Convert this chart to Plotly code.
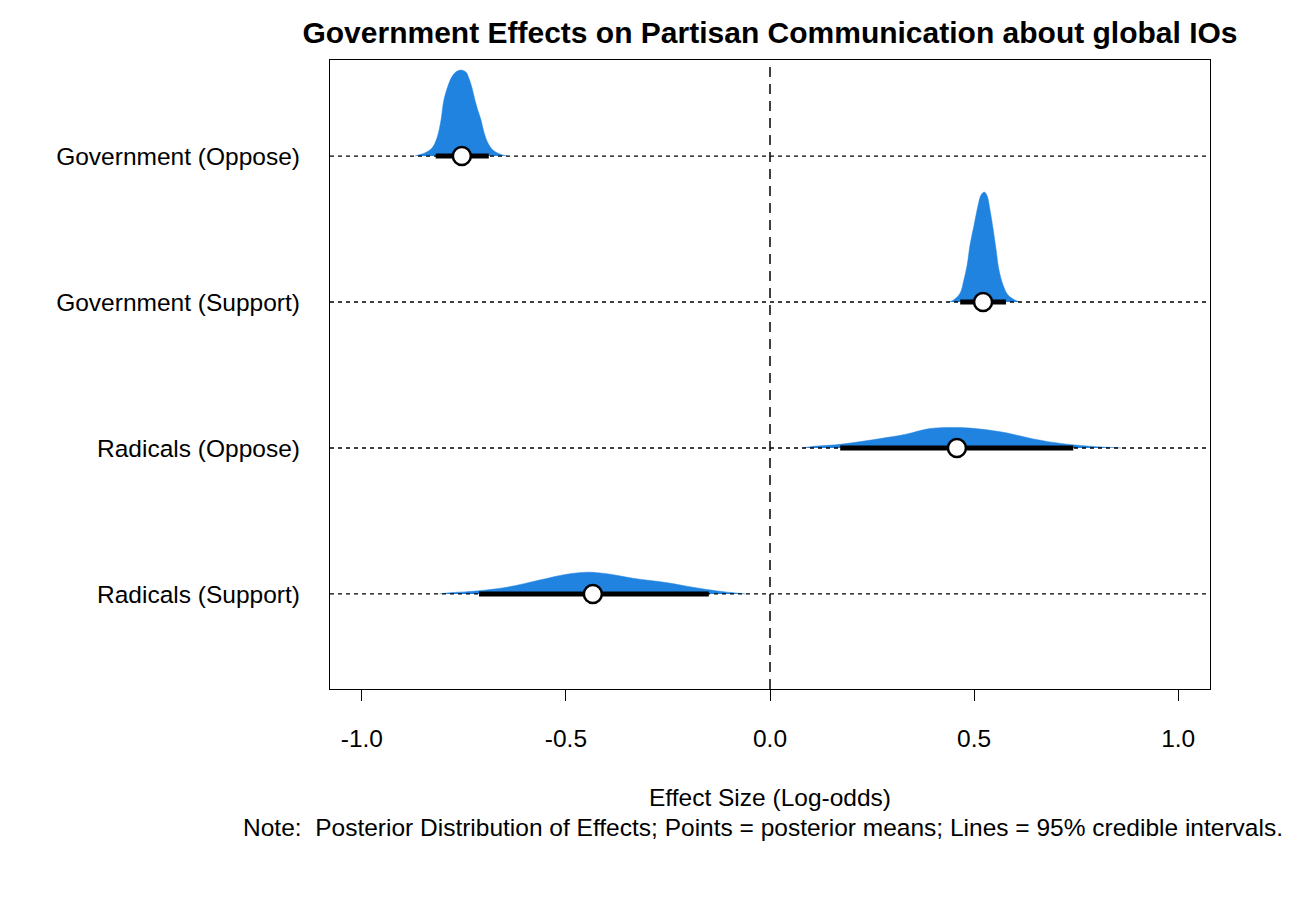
import plotly.graph_objects as go

# ---- data ----
categories = ["Government (Oppose)", "Government (Support)", "Radicals (Oppose)", "Radicals (Support)"]
rows = [4, 3, 2, 1]
means = [-0.755, 0.522, 0.458, -0.434]
ci_low = [-0.819, 0.466, 0.172, -0.713]
ci_high = [-0.689, 0.578, 0.743, -0.150]

# posterior density curves (x in log-odds, h = scaled density height)
gov_opp_x = [-0.870, -0.862, -0.846, -0.828, -0.816, -0.806, -0.799, -0.789, -0.779, -0.770, -0.758,
             -0.745, -0.738, -0.730, -0.723, -0.716, -0.708, -0.701, -0.691, -0.679, -0.662, -0.645]
gov_opp_h = [0.0, 0.007, 0.021, 0.055, 0.123, 0.247, 0.384, 0.480, 0.545, 0.575, 0.589,
             0.575, 0.535, 0.466, 0.384, 0.315, 0.247, 0.164, 0.089, 0.041, 0.014, 0.0]

gov_sup_x = [0.440, 0.453, 0.466, 0.475, 0.483, 0.490, 0.500, 0.510, 0.517, 0.525, 0.532,
             0.539, 0.547, 0.554, 0.561, 0.571, 0.583, 0.600, 0.612]
gov_sup_h = [0.0, 0.021, 0.062, 0.151, 0.253, 0.390, 0.527, 0.664, 0.733, 0.753, 0.726,
             0.630, 0.493, 0.356, 0.219, 0.116, 0.048, 0.014, 0.0]

rad_opp_x = [0.08, 0.10, 0.172, 0.294, 0.336, 0.385, 0.417, 0.466, 0.515, 0.581, 0.645,
             0.718, 0.800, 0.840, 0.86]
rad_opp_h = [0.0, 0.009, 0.025, 0.075, 0.096, 0.130, 0.139, 0.140, 0.130, 0.103, 0.062,
             0.029, 0.009, 0.003, 0.0]

rad_sup_x = [-0.81, -0.79, -0.718, -0.645, -0.564, -0.498, -0.449, -0.400, -0.336, -0.252,
             -0.189, -0.130, -0.085, -0.06]
rad_sup_h = [0.0, 0.007, 0.021, 0.046, 0.096, 0.135, 0.149, 0.139, 0.108, 0.077,
             0.046, 0.021, 0.007, 0.0]

densities = [(gov_opp_x, gov_opp_h), (gov_sup_x, gov_sup_h), (rad_opp_x, rad_opp_h), (rad_sup_x, rad_sup_h)]

x_range = [-1.078, 1.078]
y_range = [0.349, 4.658]
x_ticks = [-1.0, -0.5, 0.0, 0.5, 1.0]
x_tick_text = ["-1.0", "-0.5", "0.0", "0.5", "1.0"]

FILL = "#2183E0"
FONT = "Liberation Sans, Arial, Helvetica, sans-serif"
FS = 24.5

fig = go.Figure()

# densities
for (xs, hs), r in zip(densities, rows):
    fig.add_trace(go.Scatter(
        x=xs, y=[r + h for h in hs], mode="lines", line=dict(color=FILL, width=0.5, shape="spline"),
        fill="toself", fillcolor=FILL, hoverinfo="skip", showlegend=False))

# dotted reference lines
for r in rows:
    fig.add_trace(go.Scatter(x=x_range, y=[r, r], mode="lines",
                             line=dict(color="black", width=1.3, dash="4px,4px"),
                             hoverinfo="skip", showlegend=False))

# credible intervals
for lo, hi, r in zip(ci_low, ci_high, rows):
    fig.add_trace(go.Scatter(x=[lo, hi], y=[r, r], mode="lines",
                             line=dict(color="black", width=5),
                             hoverinfo="skip", showlegend=False))

# posterior means
fig.add_trace(go.Scatter(x=means, y=rows, mode="markers",
                         marker=dict(size=18, color="white", line=dict(color="black", width=2.5)),
                         showlegend=False))

fig.add_shape(type="line", x0=0, x1=0, y0=0, y1=1, xref="x", yref="paper",
              line=dict(color="black", width=1.5, dash="10px,7px"))

fig.update_layout(
    width=1300, height=900,
    margin=dict(l=330, r=90, t=60, b=211),
    paper_bgcolor="white", plot_bgcolor="white",
    font=dict(family=FONT, size=FS, color="black"),
    title=dict(text="<b>Government Effects on Partisan Communication about global IOs</b>",
               x=(330 + 440) / 1300, xanchor="center", y=1 - 32 / 900, yanchor="middle",
               font=dict(size=30, family=FONT)),
    xaxis=dict(range=x_range, tickvals=x_ticks, ticktext=x_tick_text,
               showgrid=False, zeroline=False, showline=True, linecolor="black", linewidth=1.3,
               mirror=True, ticks="outside", ticklen=11, tickcolor="black", tickwidth=1.3,
               ticklabelstandoff=16, tickfont=dict(size=FS)),
    yaxis=dict(range=y_range, tickvals=rows, ticktext=categories,
               showgrid=False, zeroline=False, showline=True, linecolor="black", linewidth=1.3,
               mirror=True, ticks="", ticklabelstandoff=24, tickfont=dict(size=FS)),
)

fig.add_annotation(text="Effect Size (Log-odds)", xref="paper", yref="paper",
                   x=0.5, y=-(797 - 689) / 629, xanchor="center", yanchor="middle",
                   showarrow=False, font=dict(size=FS))
fig.add_annotation(text="Note:  Posterior Distribution of Effects; Points = posterior means; Lines = 95% credible intervals.",
                   xref="paper", yref="paper",
                   x=(762.5 - 330) / 880, y=-(827 - 689) / 629, xanchor="center", yanchor="middle",
                   showarrow=False, font=dict(size=FS))

fig.write_html("out.html")
